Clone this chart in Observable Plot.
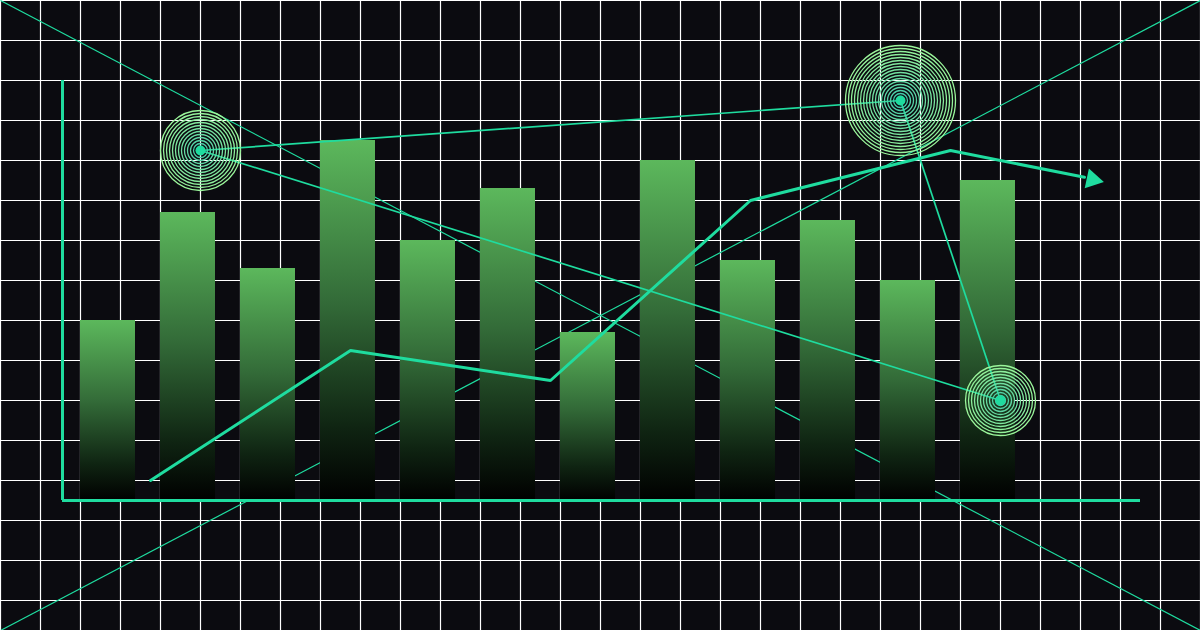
<!DOCTYPE html>
<html>
<head>
<meta charset="utf-8">
<script src="https://cdn.jsdelivr.net/npm/d3@7"></script>
<script src="https://cdn.jsdelivr.net/npm/@observablehq/plot@0.6"></script>
<style>
  html, body { margin: 0; padding: 0; background: #0b0b10; overflow: hidden; }
  #chart svg { display: block; }
</style>
</head>
<body>
<div id="chart"></div>
<script>
// ---- data (x in grid cells, y in value units; 10 units per grid row) ----
const barSlots   = [1, 2, 3, 4, 5, 6, 7, 8, 9, 10, 11, 12];
const barValues  = [45, 72, 58, 90, 65, 78, 42, 85, 60, 70, 55, 80];

const trendX     = [3.75, 8.75, 13.75, 18.75, 23.75, 27.1];
const trendY     = [5, 37.5, 30, 75, 87.5, 80.8];
const arrowHead  = {x: 27.3, y: 80.25};

const targetNames  = ["A", "B", "C"];
const targetX      = [5, 22.5, 25];
const targetY      = [87.5, 100, 25];
const targetRadius = [40, 55, 35];
const targetLinks  = [["A", "B"], ["B", "C"], ["A", "C"]];

const xDomain = [0, 30];
const yDomain = [-32.5, 125];
const xGridTicks = d3.range(0, 31, 1);
const yGridTicks = d3.range(-25, 126, 10);
const axisX0 = 1.55, axisXEnd = 28.5, axisYTop = 105;

// ---- derived tables ----
const bars = barSlots.map((s, i) => ({slot: s, value: barValues[i]}));
const trend = trendX.map((x, i) => ({x, y: trendY[i]}));
const targets = targetNames.map((n, i) => ({name: n, x: targetX[i], y: targetY[i], r: targetRadius[i]}));
const byName = Object.fromEntries(targets.map(t => [t.name, t]));
const links = targetLinks.map(([a, b]) => ({x1: byName[a].x, y1: byName[a].y, x2: byName[b].x, y2: byName[b].y}));
const diagonals = [
  {x1: xDomain[0], y1: yDomain[1], x2: xDomain[1], y2: yDomain[0]},
  {x1: xDomain[0], y1: yDomain[0], x2: xDomain[1], y2: yDomain[1]}
];
const ringColor = d3.interpolateRgb("#22b8b0", "#9af59a");
const rings = targets.flatMap(t => {
  const out = [];
  for (let r = t.r; r >= 4; r -= 3) out.push({x: t.x, y: t.y, r, c: ringColor(Math.pow(r / t.r, 0.6))});
  return out;
});

const TEAL = "#1fdc9f";

const defs = () => {
  const ns = "http://www.w3.org/2000/svg";
  const d = document.createElementNS(ns, "defs");
  d.innerHTML = `<linearGradient id="barGrad" x1="0" y1="0" x2="0" y2="1">
      <stop offset="0" stop-color="#5cb85c"/>
      <stop offset="0.45" stop-color="#336b38"/>
      <stop offset="0.8" stop-color="#0f2412"/>
      <stop offset="1" stop-color="#000000"/>
    </linearGradient>`;
  return d;
};

const chart = Plot.plot({
  width: 1200,
  height: 630,
  margin: 0,
  x: {domain: xDomain, axis: null},
  y: {domain: yDomain, axis: null},
  r: {type: "identity"},
  color: {type: "identity"},
  style: {background: "#0b0b10"},
  marks: [
    defs,
    Plot.gridX(xGridTicks, {stroke: "#ffffff", strokeOpacity: 1, strokeWidth: 1.2}),
    Plot.gridY(yGridTicks, {stroke: "#ffffff", strokeOpacity: 1, strokeWidth: 1.2}),
    Plot.link(diagonals, {x1: "x1", y1: "y1", x2: "x2", y2: "y2", stroke: TEAL, strokeWidth: 1.2, strokeOpacity: 1}),
    Plot.rectY(bars, {x1: d => d.slot * 2, x2: d => d.slot * 2 + 2, y1: 0, y2: "value", insetRight: 25, fill: "url(#barGrad)"}),
    Plot.ruleX([axisX0], {y1: 0, y2: axisYTop, stroke: TEAL, strokeWidth: 3}),
    Plot.ruleY([0], {x1: axisX0, x2: axisXEnd, stroke: TEAL, strokeWidth: 3}),
    Plot.line(trend, {x: "x", y: "y", stroke: TEAL, strokeWidth: 3, strokeLinejoin: "miter"}),
    Plot.dot([arrowHead], {x: "x", y: "y", symbol: "triangle", r: 7.5, fill: TEAL, stroke: "none", rotate: 102}),
    Plot.link(links, {x1: "x1", y1: "y1", x2: "x2", y2: "y2", stroke: TEAL, strokeWidth: 1.7}),
    Plot.dot(rings, {x: "x", y: "y", r: "r", stroke: "c", fill: "none", strokeWidth: 1.3}),
    Plot.dot(targets, {x: "x", y: "y", r: 5, fill: TEAL, stroke: "none"})
  ]
});
document.getElementById("chart").appendChild(chart);
</script>
</body>
</html>
